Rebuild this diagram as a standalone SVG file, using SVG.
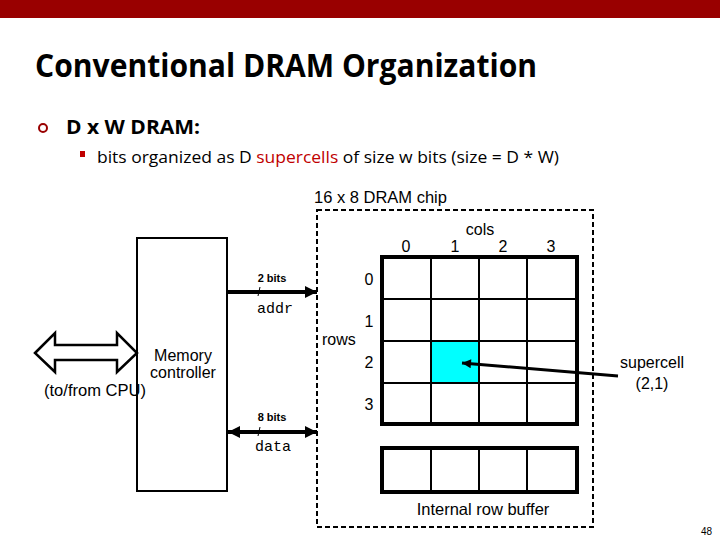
<svg xmlns="http://www.w3.org/2000/svg" width="720" height="540" viewBox="0 0 720 540">
<style>
.ar{font-family:"Liberation Sans",Arial,sans-serif;fill:#000}
.mono{font-family:"Liberation Mono","Courier New",monospace;fill:#000}
.cal{font-family:"Open Sans","Noto Sans",sans-serif}
.thick{fill:none;stroke:#000;stroke-width:4}
.thin{fill:none;stroke:#000;stroke-width:2}
</style>
<defs>
<marker id="ah" viewBox="0 0 10 10" refX="10" refY="5" markerWidth="3" markerHeight="3" orient="auto-start-reverse" markerUnits="strokeWidth">
<path d="M0,0 L10,5 L0,10 z" fill="#000"/>
</marker>
<marker id="ah2" viewBox="0 0 10 10" refX="10" refY="5" markerWidth="3.4" markerHeight="3" orient="auto" markerUnits="strokeWidth">
<path d="M0,0 L10,5 L0,10 z" fill="#000"/>
</marker>
</defs>
<rect x="0" y="0" width="720" height="540" fill="#fff"/>
<rect x="0" y="0" width="720" height="18" fill="#990000"/>
<text class="cal" x="35" y="77" font-size="32" font-weight="bold" textLength="502" lengthAdjust="spacingAndGlyphs">Conventional DRAM Organization</text>
<circle cx="43" cy="128" r="4" fill="none" stroke="#990000" stroke-width="2"/>
<text class="cal" x="66" y="134" font-size="20" font-weight="bold" textLength="134" lengthAdjust="spacingAndGlyphs">D x W DRAM:</text>
<rect x="80" y="151" width="5" height="6" fill="#C00000"/>
<text class="cal" x="97" y="163" font-size="16" textLength="462" lengthAdjust="spacingAndGlyphs">bits organized as D <tspan fill="#C00000">supercells</tspan> of size w bits (size = D * W)</text>

<g id="chip">
<rect x="317" y="210" width="276" height="317" fill="none" stroke="#000" stroke-width="2" stroke-dasharray="5,3"/>
<text class="ar" x="314" y="203" font-size="16.5">16 x 8 DRAM chip</text>
</g>

<g id="array">
<rect x="431" y="342" width="48" height="41" fill="#00FFFF"/>
<path class="thin" d="M431,257V424M479,257V424M527,257V424M382,299H577M382,341H577M382,383H577"/>
<rect class="thick" x="382" y="257" width="195" height="167"/>
<text class="ar" x="480" y="235" font-size="16" text-anchor="middle">cols</text>
<text class="ar" x="406" y="252" font-size="16" text-anchor="middle">0</text>
<text class="ar" x="455" y="252" font-size="16" text-anchor="middle">1</text>
<text class="ar" x="503" y="252" font-size="16" text-anchor="middle">2</text>
<text class="ar" x="551" y="252" font-size="16" text-anchor="middle">3</text>
<text class="ar" x="369" y="285" font-size="16" text-anchor="middle">0</text>
<text class="ar" x="369" y="327" font-size="16" text-anchor="middle">1</text>
<text class="ar" x="369" y="368" font-size="16" text-anchor="middle">2</text>
<text class="ar" x="369" y="410" font-size="16" text-anchor="middle">3</text>
<text class="ar" x="322" y="345" font-size="16">rows</text>
</g>

<g id="rowbuffer">
<path class="thin" d="M431,448V492M479,448V492M527,448V492"/>
<rect class="thick" x="382" y="448" width="195" height="44"/>
<text class="ar" x="483" y="515" font-size="16.5" text-anchor="middle">Internal row buffer</text>
</g>

<g id="controller">
<rect x="137" y="238" width="90" height="253" fill="#fff" stroke="#000" stroke-width="2"/>
<text class="ar" x="183" y="361" font-size="16" text-anchor="middle">Memory</text>
<text class="ar" x="183" y="378" font-size="16" text-anchor="middle">controller</text>
</g>

<g id="cpu">
<polygon points="35,353 55,333 55,345 117,345 117,333 137,353 117,372 117,360 55,360 55,372" fill="#fff" stroke="#000" stroke-width="2.5" stroke-linejoin="miter"/>
<text class="ar" x="44" y="396" font-size="16" textLength="102" lengthAdjust="spacingAndGlyphs">(to/from CPU)</text>
</g>

<g id="supercell-label">
<text class="ar" x="652" y="368" font-size="16" text-anchor="middle">supercell</text>
<text class="ar" x="652" y="389" font-size="16" text-anchor="middle">(2,1)</text>
</g>

<g id="connectors">
<line x1="227" y1="292" x2="317" y2="292" stroke="#000" stroke-width="4" marker-end="url(#ah)"/>
<line x1="258" y1="296" x2="260" y2="287" stroke="#000" stroke-width="1"/>
<text class="ar" x="272" y="282" font-size="11" font-weight="bold" text-anchor="middle">2 bits</text>
<text class="mono" x="275" y="313" font-size="15" text-anchor="middle">addr</text>
<line x1="228" y1="432" x2="317" y2="432" stroke="#000" stroke-width="4" marker-start="url(#ah)" marker-end="url(#ah)"/>
<line x1="258" y1="436" x2="260" y2="427" stroke="#000" stroke-width="1"/>
<text class="ar" x="272" y="421" font-size="11" font-weight="bold" text-anchor="middle">8 bits</text>
<text class="mono" x="273" y="451" font-size="15" text-anchor="middle">data</text>
<line x1="618" y1="376" x2="462" y2="363" stroke="#000" stroke-width="3" marker-end="url(#ah2)"/>
</g>

<text class="ar" x="712" y="535" font-size="10" text-anchor="end">48</text>
</svg>
